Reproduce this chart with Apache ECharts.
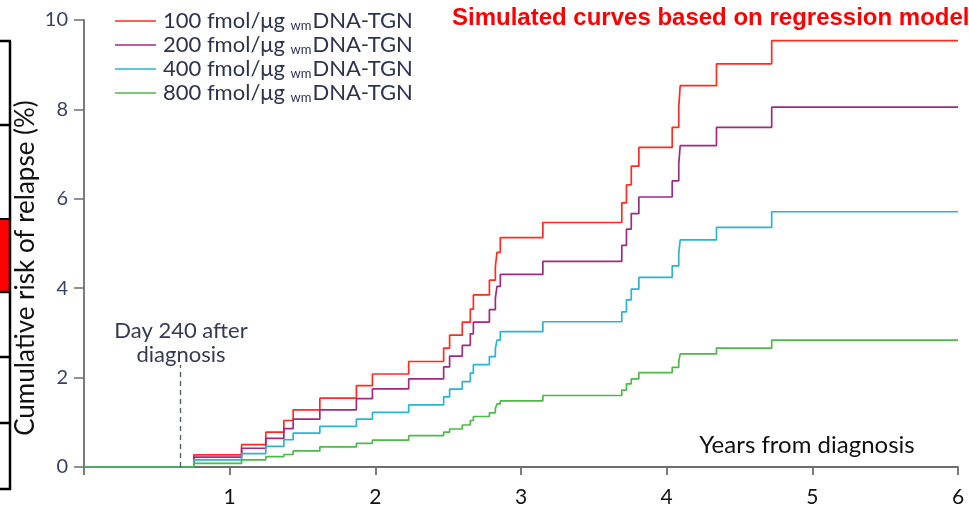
<!DOCTYPE html>
<html>
<head>
<meta charset="utf-8">
<script src="https://cdn.jsdelivr.net/npm/echarts@6/dist/echarts.min.js"></script>
<style>
  html, body { margin: 0; padding: 0; background: #fff; }
  #chart { width: 969px; height: 512px; }
</style>
</head>
<body>
<div id="chart"></div>
<script>
// event times, years from diagnosis (shared by the four simulated curves)
const times = [0, 0.754, 1.082, 1.248, 1.372, 1.436, 1.619, 1.870, 1.980, 2.229, 2.469,
  2.510, 2.597, 2.652, 2.673, 2.783, 2.824, 2.835, 2.858, 3.150, 3.692,
  3.724, 3.757, 3.809, 4.038, 4.083, 4.093, 4.342, 4.721, 6];

// cumulative risk of relapse (%) after each event
const risk100 = [0, 0.27, 0.50, 0.78, 1.04, 1.28, 1.54, 1.82, 2.08, 2.36, 2.66,
  2.95, 3.24, 3.53, 3.85, 4.18, 4.48, 4.80, 5.13, 5.47, 5.91,
  6.31, 6.73, 7.15, 7.60, 8.05, 8.53, 9.02, 9.54, 9.54];
const risk200 = [0, 0.22, 0.42, 0.64, 0.86, 1.07, 1.28, 1.53, 1.75, 1.97, 2.24,
  2.48, 2.72, 2.98, 3.24, 3.52, 3.77, 4.04, 4.31, 4.60, 4.96,
  5.32, 5.67, 6.04, 6.40, 6.78, 7.19, 7.60, 8.05, 8.05];
const risk400 = [0, 0.16, 0.30, 0.46, 0.61, 0.76, 0.91, 1.07, 1.22, 1.39, 1.57,
  1.74, 1.91, 2.10, 2.29, 2.47, 2.65, 2.84, 3.03, 3.25, 3.47,
  3.74, 3.98, 4.24, 4.50, 4.78, 5.08, 5.36, 5.71, 5.71];
const risk800 = [0, 0.08, 0.16, 0.23, 0.28, 0.36, 0.45, 0.53, 0.60, 0.70, 0.78,
  0.85, 0.94, 1.04, 1.13, 1.21, 1.31, 1.41, 1.48, 1.60, 1.72,
  1.86, 1.97, 2.11, 2.23, 2.37, 2.53, 2.66, 2.84, 2.84];

const doses = ['100', '200', '400', '800'];
const colors = ['#ff2b1c', '#a02a80', '#2ab3d3', '#4cb948'];
const xTicks = [0, 1, 2, 3, 4, 5, 6];
const yTicks = [0, 2, 4, 6, 8, 10];
const day240 = 240 / 365;

const allRisk = [risk100, risk200, risk400, risk800];

const chart = echarts.init(document.getElementById('chart'));

const series = doses.map(function (d, i) {
  return {
    name: d + ' fmol/μg wmDNA-TGN',
    type: 'line',
    step: 'end',
    symbol: 'none',
    color: colors[i],
    lineStyle: { width: 1.7, color: colors[i] },
    data: times.map(function (t, k) { return [t, allRisk[i][k]]; }),
    animation: false
  };
});

// dashed marker at day 240
series[0].markLine = {
  silent: true,
  symbol: 'none',
  label: { show: false },
  lineStyle: { type: [5, 4], color: '#4d5a62', width: 1.3 },
  data: [[{ coord: [day240, 0] }, { coord: [day240, 2.28] }]]
};

const textColor = '#2d3250';

const option = {
  backgroundColor: '#fff',
  animation: false,
  grid: { left: 84, right: 11, top: 20, bottom: 45 },
  legend: {
    orient: 'vertical',
    left: 110,
    top: 5,
    icon: 'rect',
    itemWidth: 41,
    itemHeight: 1.6,
    itemGap: 2,
    formatter: function (name) {
      return '{a|' + name.split(' ')[0] + ' fmol/μg }{s|wm}{a|DNA-TGN}';
    },
    textStyle: {
      padding: [0, 0, 0, 2],
      rich: {
        a: { fontFamily: 'Lato', fontSize: 22, color: textColor, lineHeight: 22 },
        s: { fontFamily: 'Lato', fontSize: 13, color: textColor, lineHeight: 22, verticalAlign: 'bottom', padding: [7, 1, 0, 0] }
      }
    }
  },
  xAxis: {
    type: 'value',
    min: xTicks[0],
    max: xTicks[xTicks.length - 1],
    interval: 1,
    axisLine: { lineStyle: { color: '#6e6e6e', width: 1.8 } },
    axisTick: { length: 8, lineStyle: { color: '#6e6e6e', width: 1.8 } },
    axisLabel: {
      margin: 20,
      fontFamily: 'Lato',
      fontSize: 21,
      color: '#111',
      formatter: function (v) { return v === 0 ? '' : String(v); }
    },
    splitLine: { show: false }
  },
  yAxis: {
    type: 'value',
    min: yTicks[0],
    max: yTicks[yTicks.length - 1],
    interval: 2,
    axisLine: { show: true, lineStyle: { color: '#6e6e6e', width: 1.8 } },
    axisTick: { show: true, length: 10, lineStyle: { color: '#6e6e6e', width: 1.5 } },
    axisLabel: { margin: 16, fontFamily: 'Lato', fontSize: 20, color: '#3a4062' },
    splitLine: { show: false }
  },
  graphic: [
    // cropped edge of a neighbouring panel
    { type: 'rect', shape: { x: 0, y: 219, width: 10, height: 73 }, style: { fill: '#ff0000' } },
    { type: 'line', shape: { x1: 10, y1: 41, x2: 10, y2: 490 }, style: { stroke: '#000', lineWidth: 2.5 } },
    { type: 'line', shape: { x1: 0, y1: 41, x2: 11, y2: 41 }, style: { stroke: '#000', lineWidth: 2.5 } },
    { type: 'line', shape: { x1: 0, y1: 125, x2: 11, y2: 125 }, style: { stroke: '#000', lineWidth: 2.5 } },
    { type: 'line', shape: { x1: 0, y1: 219, x2: 11, y2: 219 }, style: { stroke: '#000', lineWidth: 2 } },
    { type: 'line', shape: { x1: 0, y1: 292, x2: 11, y2: 292 }, style: { stroke: '#000', lineWidth: 2.5 } },
    { type: 'line', shape: { x1: 0, y1: 357, x2: 11, y2: 357 }, style: { stroke: '#000', lineWidth: 2.5 } },
    { type: 'line', shape: { x1: 0, y1: 423, x2: 11, y2: 423 }, style: { stroke: '#000', lineWidth: 2.5 } },
    { type: 'line', shape: { x1: 0, y1: 489, x2: 11, y2: 489 }, style: { stroke: '#000', lineWidth: 2.5 } },
    {
      type: 'text', x: 26, y: 268, rotation: Math.PI / 2,
      style: { text: 'Cumulative risk of relapse (%)', fontFamily: 'Lato', fontSize: 26, fill: '#111', align: 'center', verticalAlign: 'middle' }
    },
    {
      type: 'text', x: 452, y: 18,
      style: { text: 'Simulated curves based on regression model', fontFamily: 'Liberation Sans', fontWeight: 'bold', fontSize: 24, fill: '#ff0000', align: 'left', verticalAlign: 'middle' }
    },
    {
      type: 'text', x: 807, y: 445,
      style: { text: 'Years from diagnosis', fontFamily: 'Lato', fontSize: 24, fill: '#111', align: 'center', verticalAlign: 'middle' }
    },
    {
      type: 'text', x: 181, y: 343,
      style: { text: 'Day 240 after\ndiagnosis', fontFamily: 'Lato', fontSize: 22, lineHeight: 24, fill: '#343a52', align: 'center', verticalAlign: 'middle' }
    }
  ],
  series: series
};

chart.setOption(option);
</script>
</body>
</html>
